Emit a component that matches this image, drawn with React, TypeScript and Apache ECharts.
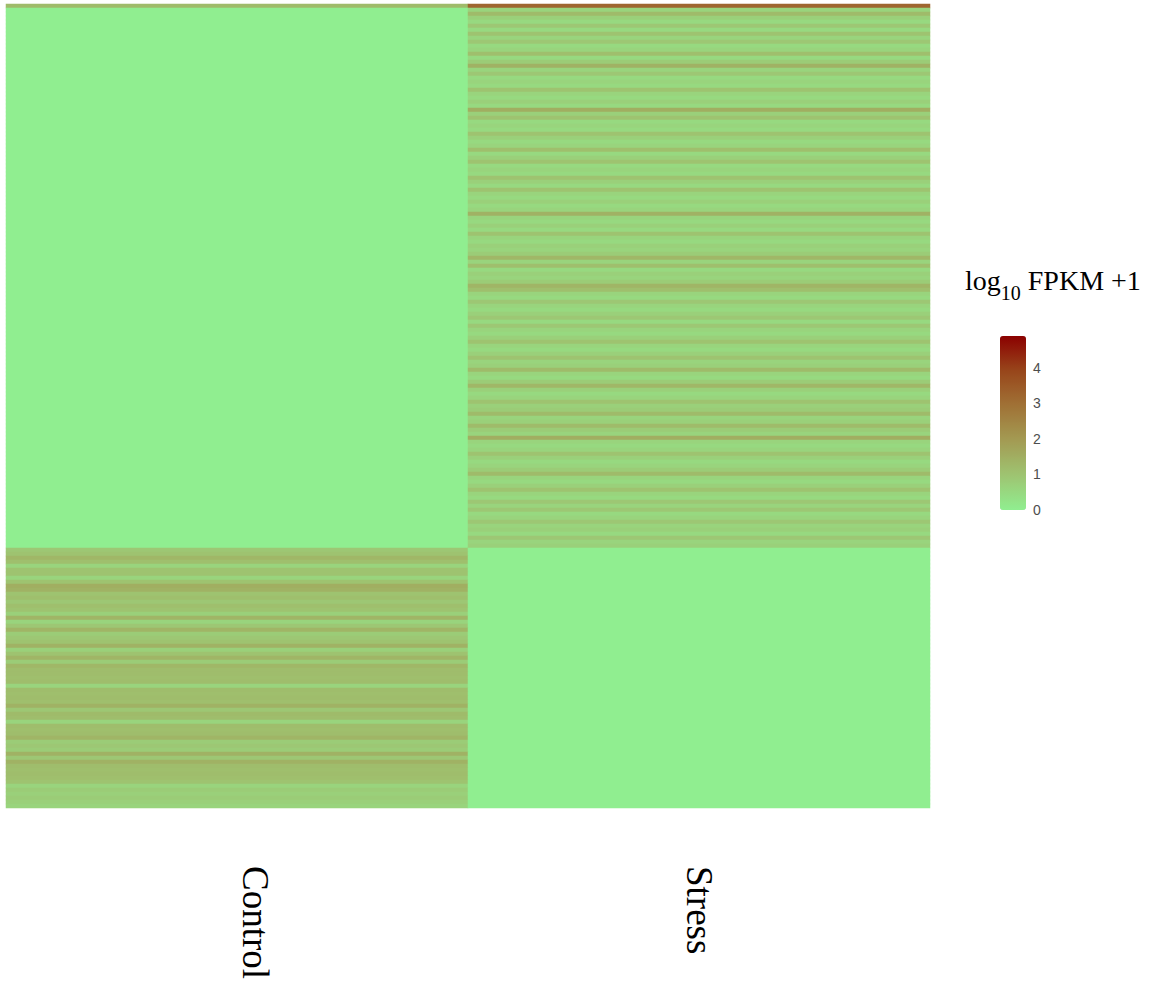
import React, { useEffect, useRef } from "react";
import * as echarts from "echarts";

// Sample columns
const samples = ["Control", "Stress"];

// log10 FPKM + 1 for genes induced under stress (Stress column, top cluster)
const stressGroupStress = [
  3.2, 0.6, 1.2, 0.7, 0.5, 0.9, 0.5, 1.0, 0.6, 0.9,
  0.5, 0.6, 1.1, 0.5, 0.8, 1.4, 0.6, 0.9, 0.5, 0.6,
  0.5, 1.0, 0.6, 0.5, 0.7, 0.5, 1.5, 0.7, 1.0, 0.5,
  0.6, 0.5, 1.0, 0.7, 0.5, 0.6, 1.1, 0.5, 0.7, 1.0,
  0.5, 0.6, 0.5, 1.0, 0.7, 0.5, 1.0, 0.6, 0.5, 0.7,
  0.5, 0.6, 1.4, 0.6, 0.5, 0.7, 0.5, 1.0, 0.6, 0.5,
  0.7, 0.6, 0.8, 1.3, 0.6, 1.1, 0.5, 0.7, 0.6, 0.8,
  1.35, 1.1, 0.6, 0.5, 0.9, 0.6, 0.5, 0.7, 0.9, 0.5,
  0.9, 0.6, 0.5, 0.7, 1.0, 0.6, 0.5, 0.7, 1.0, 0.6,
  0.7, 1.2, 0.6, 0.5, 0.8, 1.3, 0.7, 0.5, 0.6, 1.0,
  0.7, 0.8, 1.2, 0.6, 0.7, 1.2, 0.8, 0.6, 1.5, 0.6,
  0.5, 0.6, 1.0, 0.7, 0.5, 0.6, 0.8, 1.2, 0.6, 0.5,
  0.7, 1.0, 0.6, 0.5, 0.9, 0.6, 0.9, 0.5, 0.6, 0.9,
  0.6, 0.7, 0.5, 0.9, 0.6, 0.7,
];

// Same genes in the Control column (silent except the first one)
const stressGroupControl = [
  1.2, 0, 0, 0, 0, 0, 0, 0, 0, 0, 0, 0, 0, 0, 0, 0, 0, 0, 0, 0,
  0, 0, 0, 0, 0, 0, 0, 0, 0, 0, 0, 0, 0, 0, 0, 0, 0, 0, 0, 0,
  0, 0, 0, 0, 0, 0, 0, 0, 0, 0, 0, 0, 0, 0, 0, 0, 0, 0, 0, 0,
  0, 0, 0, 0, 0, 0, 0, 0, 0, 0, 0, 0, 0, 0, 0, 0, 0, 0, 0, 0,
  0, 0, 0, 0, 0, 0, 0, 0, 0, 0, 0, 0, 0, 0, 0, 0, 0, 0, 0, 0,
  0, 0, 0, 0, 0, 0, 0, 0, 0, 0, 0, 0, 0, 0, 0, 0, 0, 0, 0, 0,
  0, 0, 0, 0, 0, 0, 0, 0, 0, 0, 0, 0, 0, 0, 0, 0,
];

// Genes expressed only in Control (bottom cluster)
const controlGroupControl = [
  0.9, 1.0, 1.3, 1.1, 0.6, 1.0, 1.0, 0.6, 1.0, 1.5,
  1.4, 1.0, 1.1, 0.9, 1.1, 1.0, 0.7, 1.35, 0.6, 0.9,
  1.35, 0.8, 0.9, 1.0, 1.4, 0.7, 1.0, 1.35, 0.8, 1.3,
  1.15, 1.15, 1.1, 1.15, 0.6, 1.15, 1.1, 1.15, 1.1, 1.4,
  0.9, 1.2, 1.15, 0.6, 1.15, 1.1, 1.15, 1.35, 0.8, 0.9,
  0.8, 1.4, 0.9, 1.4, 1.15, 1.1, 1.15, 1.1, 1.0, 0.6,
  0.8, 0.7, 0.8, 0.7, 0.6,
];

const controlGroupStress = [
  0, 0, 0, 0, 0, 0, 0, 0, 0, 0, 0, 0, 0, 0, 0, 0, 0, 0, 0, 0,
  0, 0, 0, 0, 0, 0, 0, 0, 0, 0, 0, 0, 0, 0, 0, 0, 0, 0, 0, 0,
  0, 0, 0, 0, 0, 0, 0, 0, 0, 0, 0, 0, 0, 0, 0, 0, 0, 0, 0, 0,
  0, 0, 0, 0, 0,
];

// Colour scale: lightgreen -> darkred (Lab-style ramp)
const scaleMin = 0;
const scaleMax = 4.9;
const scaleColors = ["#90EE90", "#9EC471", "#A39B53", "#A07236", "#98461B", "#8B0000"];

const serif = "'Liberation Serif', 'Times New Roman', serif";

export default function App() {
  const ref = useRef<HTMLDivElement>(null);

  useEffect(() => {
    if (!ref.current) return;
    const chart = echarts.init(ref.current, undefined, { renderer: "svg" });

    const controlCol = [...stressGroupControl, ...controlGroupControl];
    const stressCol = [...stressGroupStress, ...controlGroupStress];
    const genes = controlCol.map((_, i) => `gene${i + 1}`);
    const data: number[][] = [];
    genes.forEach((_, i) => {
      data.push([0, i, controlCol[i]]);
      data.push([1, i, stressCol[i]]);
    });

    const sampleFont = { fontSize: 37, fontFamily: serif, color: "#000000" };

    chart.setOption({
      animation: false,
      backgroundColor: "#ffffff",
      grid: [
        { left: 6, top: 4, width: 924, height: 804 },
        { left: 1000, top: 336, width: 26, height: 174 },
      ],
      xAxis: [
        {
          type: "category",
          gridIndex: 0,
          data: samples,
          axisLine: { show: false },
          axisTick: { show: false },
          splitLine: { show: false },
          axisLabel: {
            rotate: -90,
            margin: 58,
            ...sampleFont,
            formatter: (v: string) => (v === samples[0] ? `{c|${v}}` : `{s|${v}}`),
            rich: {
              c: { ...sampleFont, padding: [0, 0, 36, 0] },
              s: { ...sampleFont },
            },
          },
        },
        { type: "value", gridIndex: 1, show: false, min: 0, max: 1 },
      ],
      yAxis: [
        {
          type: "category",
          gridIndex: 0,
          data: genes,
          inverse: true,
          show: false,
        },
        {
          type: "value",
          gridIndex: 1,
          position: "right",
          min: scaleMin,
          max: scaleMax,
          interval: 1,
          axisLine: { show: false },
          splitLine: { show: false },
          axisTick: { show: true, inside: true, length: 5, lineStyle: { color: "#ffffff", width: 1 } },
          axisLabel: {
            showMaxLabel: false,
            margin: 7,
            fontSize: 14,
            fontFamily: "'Liberation Sans Narrow', 'Liberation Sans', sans-serif",
            color: "#4d4d4d",
          },
        },
        {
          type: "value",
          gridIndex: 1,
          position: "left",
          min: scaleMin,
          max: scaleMax,
          interval: 1,
          axisLine: { show: false },
          splitLine: { show: false },
          axisTick: { show: true, inside: true, length: 5, lineStyle: { color: "#ffffff", width: 1 } },
          axisLabel: { show: false },
        },
      ],
      visualMap: {
        type: "continuous",
        min: scaleMin,
        max: scaleMax,
        seriesIndex: 0,
        dimension: 2,
        orient: "vertical",
        left: 1000,
        top: 336,
        itemWidth: 26,
        itemHeight: 174,
        padding: 0,
        calculable: false,
        hoverLink: false,
        inRange: { color: scaleColors },
      },
      graphic: [
        {
          type: "text",
          left: 965,
          top: 266,
          z: 10,
          style: {
            text: "{a|log}{b|10}{a| FPKM +1}",
            fill: "#000000",
            rich: {
              a: { fontSize: 28, lineHeight: 30, fontFamily: serif, fill: "#000", verticalAlign: "top" },
              b: {
                fontSize: 20,
                lineHeight: 20,
                fontFamily: serif,
                fill: "#000",
                verticalAlign: "top",
                padding: [17, 0, 0, 0],
              },
            },
          },
        },
      ],
      series: [
        {
          type: "heatmap",
          xAxisIndex: 0,
          yAxisIndex: 0,
          data,
          progressive: 0,
          itemStyle: { borderWidth: 0 },
          emphasis: { disabled: true },
        },
      ],
    });

    return () => chart.dispose();
  }, []);

  return (
    <div
      ref={ref}
      style={{ position: "fixed", left: 0, top: 0, width: 1152, height: 995, background: "#fff" }}
    />
  );
}
